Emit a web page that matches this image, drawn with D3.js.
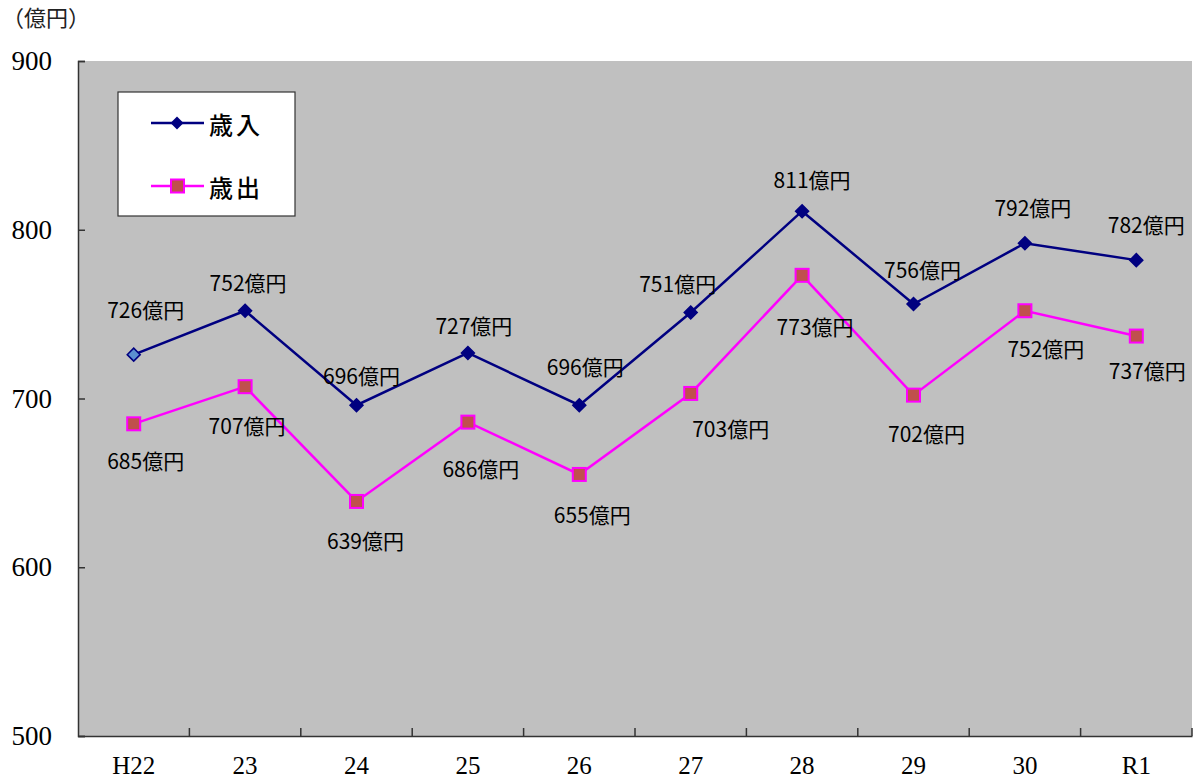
<!DOCTYPE html>
<html><head><meta charset="utf-8">
<script src="https://cdn.jsdelivr.net/npm/d3@7"></script>
<style>body{margin:0;background:#fff;}svg{display:block;}</style>
</head><body>
<svg id="c" width="1196" height="783"></svg>
<script>
const categories = ["H22","23","24","25","26","27","28","29","30","R1"];
const revenue = [726,752,696,727,696,751,811,756,792,782];
const expenditure = [685,707,639,686,655,703,773,702,752,737];
const yTicks = [500,600,700,800,900];
const seriesNames = ["歳入","歳出"];
const unitLabel = "（億円）";
const labelSuffix = "億円";
// label offsets (dx, dy) relative to the point
const revLabelOffsets = [[12,-46],[3,-29],[5,-30],[6,-28],[6,-39],[-13,-29],[10,-32],[9,-35],[8,-36],[10,-36]];
const expLabelOffsets = [[12,36],[2,38],[9,39],[13,46],[13,40],[40,35],[13,51],[13,38],[21,37],[11,34]];

const svg = d3.select("#c");
const L=78, R=1192, T=61, B=736;
const x = d3.scaleBand().domain(categories).range([L,R]);
const y = d3.scaleLinear().domain([500,900]).range([B,T]);
const cx = d => x(d)+x.bandwidth()/2;

svg.append("rect").attr("x",L).attr("y",T).attr("width",R-L).attr("height",B-T).attr("fill","#c0c0c0");

// y axis
const ya = svg.append("g").attr("transform",`translate(${L},0)`)
  .call(d3.axisLeft(y).tickValues(yTicks).tickSize(-7).tickPadding(26).tickFormat(d3.format("d")));
ya.select(".domain").attr("stroke","#333").attr("stroke-width",1.5);
ya.selectAll(".tick line").attr("stroke","#333").attr("stroke-width",1.5);
ya.selectAll("text").attr("font-family","'Liberation Serif', serif").attr("font-size",27).attr("fill","#000");

// x axis
const xa = svg.append("g").attr("transform",`translate(0,${B})`)
  .call(d3.axisBottom(x).tickSize(0).tickPadding(20));
xa.select(".domain").attr("stroke","#333").attr("stroke-width",1.5);
xa.selectAll("text").attr("font-family","'Liberation Serif', serif").attr("font-size",25).attr("fill","#000").attr("dy","0.71em");
// category boundary ticks (inward)
const bounds = categories.map(c=>x(c)).slice(1).concat([R]);
svg.append("g").selectAll("line").data(bounds).join("line")
  .attr("x1",d=>d).attr("x2",d=>d).attr("y1",B).attr("y2",B-8)
  .attr("stroke","#333").attr("stroke-width",1.5);

// unit label
svg.append("text").attr("x",2).attr("y",26).text(unitLabel)
  .attr("font-family","'Noto Sans CJK JP', sans-serif").attr("font-size",22).attr("fill","#222");

const line = d3.line().x((d,i)=>cx(categories[i])).y(d=>y(d));

svg.append("path").datum(revenue).attr("d",line).attr("fill","none").attr("stroke","#000080").attr("stroke-width",2.5);
svg.append("path").datum(expenditure).attr("d",line).attr("fill","none").attr("stroke","#ff00ff").attr("stroke-width",2.5);

const diamond = s => `M0,${-s}L${s},0L0,${s}L${-s},0Z`;
svg.append("g").selectAll("path").data(revenue).join("path")
  .attr("d",diamond(6.5))
  .attr("transform",(d,i)=>`translate(${cx(categories[i])},${y(d)})`)
  .attr("fill",(d,i)=>i===0?"#5b8fd0":"#000080").attr("stroke","#000080").attr("stroke-width",1.5);
svg.append("g").selectAll("rect").data(expenditure).join("rect")
  .attr("x",(d,i)=>cx(categories[i])-6.5).attr("y",d=>y(d)-6.5).attr("width",13).attr("height",13)
  .attr("fill","#c0504d").attr("stroke","#ff00ff").attr("stroke-width",2);

const lblFont = "'Noto Sans CJK JP', sans-serif";
svg.append("g").selectAll("text").data(revenue).join("text")
  .attr("x",(d,i)=>cx(categories[i])+revLabelOffsets[i][0]).attr("y",(d,i)=>y(d)+revLabelOffsets[i][1])
  .attr("text-anchor","middle").attr("dominant-baseline","central")
  .attr("font-family",lblFont).attr("font-size",21).attr("fill","#000").text(d=>d+labelSuffix);
svg.append("g").selectAll("text").data(expenditure).join("text")
  .attr("x",(d,i)=>cx(categories[i])+expLabelOffsets[i][0]).attr("y",(d,i)=>y(d)+expLabelOffsets[i][1])
  .attr("text-anchor","middle").attr("dominant-baseline","central")
  .attr("font-family",lblFont).attr("font-size",21).attr("fill","#000").text(d=>d+labelSuffix);

// legend
const lg = svg.append("g");
lg.append("rect").attr("x",118).attr("y",92).attr("width",177).attr("height",124).attr("fill","#fff").attr("stroke","#333").attr("stroke-width",1.2);
const ly = [123,186];
lg.append("line").attr("x1",151).attr("x2",204).attr("y1",ly[0]).attr("y2",ly[0]).attr("stroke","#000080").attr("stroke-width",2.5);
lg.append("path").attr("d",diamond(6.5)).attr("transform",`translate(177,${ly[0]})`).attr("fill","#000080");
lg.append("line").attr("x1",151).attr("x2",204).attr("y1",ly[1]).attr("y2",ly[1]).attr("stroke","#ff00ff").attr("stroke-width",2.5);
lg.append("rect").attr("x",171).attr("y",ly[1]-6.5).attr("width",13).attr("height",13).attr("fill","#c0504d").attr("stroke","#ff00ff").attr("stroke-width",2);
lg.selectAll("text.lt").data(seriesNames).join("text").attr("class","lt")
  .attr("x",209).attr("y",(d,i)=>ly[i]).attr("dominant-baseline","central")
  .attr("font-family",lblFont).attr("font-size",24).attr("font-weight",500).attr("letter-spacing",3).attr("fill","#000").text(d=>d);
</script>
</body></html>
